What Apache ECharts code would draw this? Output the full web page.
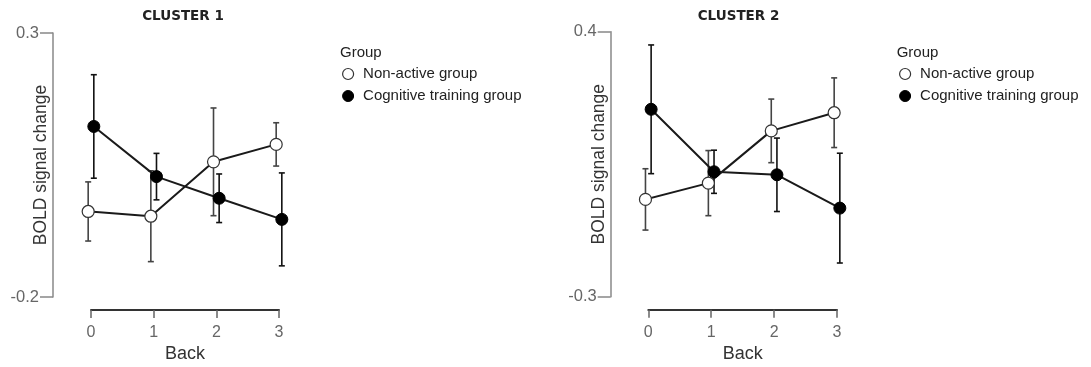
<!DOCTYPE html>
<html><head><meta charset="utf-8">
<script src="https://cdn.jsdelivr.net/npm/echarts@6/dist/echarts.min.js"></script>
<style>html,body{margin:0;padding:0;background:#fff}#c{width:1091px;height:367px}</style>
</head><body><div id="c"></div>
<script>
// ---- data ----
const backLevels = [0, 1, 2, 3];
const groupNames = ['Non-active group', 'Cognitive training group'];
const legendHeading = 'Group';
const xAxisName = 'Back';
const yAxisName = 'BOLD signal change';
const clusterTitles = ['CLUSTER 1', 'CLUSTER 2'];

// Cluster 1 (means and error half-widths)
const c1NonActive    = [-0.038, -0.047, 0.056, 0.089];
const c1NonActiveErr = [0.056, 0.086, 0.102, 0.041];
const c1Cognitive    = [0.123, 0.028, -0.013, -0.053];
const c1CognitiveErr = [0.098, 0.044, 0.046, 0.088];
const c1YTicks = [-0.2, 0.3];

// Cluster 2
const c2NonActive    = [-0.043, 0.000, 0.138, 0.186];
const c2NonActiveErr = [0.081, 0.086, 0.084, 0.092];
const c2Cognitive    = [0.195, 0.030, 0.022, -0.066];
const c2CognitiveErr = [0.170, 0.057, 0.097, 0.145];
const c2YTicks = [-0.3, 0.4];

// ---- layout / style ----
const FONT = '"Liberation Sans", Arial, sans-serif';
const dodge = 0.045;
const panels = [
  { title: clusterTitles[0], titleX: 183, grid: {left: 91, top: 33, width: 188, height: 264}, yOffset: 38,
    yTicks: c1YTicks, na: c1NonActive, naE: c1NonActiveErr, cg: c1Cognitive, cgE: c1CognitiveErr,
    legendLeft: 342, groupX: 340 },
  { title: clusterTitles[1], titleX: 738.5, grid: {left: 648.3, top: 31.7, width: 188.7, height: 265}, yOffset: 37.6,
    yTicks: c2YTicks, na: c2NonActive, naE: c2NonActiveErr, cg: c2Cognitive, cgE: c2CognitiveErr,
    legendLeft: 899, groupX: 896.7 }
];

function pts(vals, off) { return backLevels.map((b, i) => [b + off, vals[i]]); }
function errs(vals, e, off) { return backLevels.map((b, i) => [b + off, vals[i] - e[i], vals[i] + e[i]]); }

function errRenderer(color) {
  return function (params, api) {
    const x = api.value(0), lo = api.value(1), hi = api.value(2);
    const pLo = api.coord([x, lo]), pHi = api.coord([x, hi]);
    const cap = 3;
    const style = {stroke: color, lineWidth: 1.6};
    return {type: 'group', children: [
      {type: 'line', shape: {x1: pLo[0], y1: pLo[1], x2: pHi[0], y2: pHi[1]}, style: style},
      {type: 'line', shape: {x1: pLo[0] - cap, y1: pLo[1], x2: pLo[0] + cap, y2: pLo[1]}, style: style},
      {type: 'line', shape: {x1: pHi[0] - cap, y1: pHi[1], x2: pHi[0] + cap, y2: pHi[1]}, style: style}
    ]};
  };
}

const openStyle = {color: '#fff', borderColor: '#333', borderWidth: 1.2};
const fillStyle = {color: '#000', borderColor: '#000', borderWidth: 1};

const option = {
  animation: false,
  backgroundColor: '#fff',
  grid: [], xAxis: [], yAxis: [], series: [], legend: [], graphic: []
};

panels.forEach((p, k) => {
  option.grid.push(Object.assign({containLabel: false, outerBoundsMode: 'none'}, p.grid));
  option.xAxis.push({
    type: 'value', gridIndex: k, min: backLevels[0], max: backLevels[backLevels.length - 1], interval: 1,
    offset: 13,
    axisLine: {show: true, onZero: false, lineStyle: {color: '#333', width: 2}},
    axisTick: {show: true, length: 8, lineStyle: {color: '#666', width: 1.5}},
    axisLabel: {color: '#666', fontSize: 16, fontFamily: FONT, margin: 15},
    splitLine: {show: false},
    name: xAxisName, nameLocation: 'middle', nameGap: 35, nameMoveOverlap: false,
    nameTextStyle: {color: '#333', fontSize: 18, fontFamily: FONT}
  });
  const ymin = p.yTicks[0], ymax = p.yTicks[p.yTicks.length - 1];
  option.yAxis.push({
    type: 'value', gridIndex: k, min: ymin, max: ymax, interval: ymax - ymin,
    offset: p.yOffset,
    axisLine: {show: true, onZero: false, lineStyle: {color: '#888', width: 1.5}},
    axisTick: {show: true, length: 13, lineStyle: {color: '#888', width: 1.5}, customValues: p.yTicks},
    axisLabel: {color: '#666', fontSize: 16.5, fontFamily: FONT, margin: 14, customValues: p.yTicks},
    splitLine: {show: false},
    name: yAxisName, nameLocation: 'middle', nameGap: 3, nameRotate: 90, nameMoveOverlap: false,
    nameTextStyle: {color: '#333', fontSize: 17.5, fontFamily: FONT}
  });
  // error bars
  option.series.push({
    type: 'custom', xAxisIndex: k, yAxisIndex: k, z: 1, silent: true,
    renderItem: errRenderer('#444'), data: errs(p.na, p.naE, -dodge), encode: {x: 0, y: [1, 2]}
  });
  option.series.push({
    type: 'custom', xAxisIndex: k, yAxisIndex: k, z: 1, silent: true,
    renderItem: errRenderer('#111'), data: errs(p.cg, p.cgE, dodge), encode: {x: 0, y: [1, 2]}
  });
  // lines
  option.series.push({
    type: 'line', name: groupNames[0], xAxisIndex: k, yAxisIndex: k, z: 3, clip: false,
    data: pts(p.na, -dodge), symbol: 'circle', symbolSize: 12, showAllSymbol: true,
    lineStyle: {color: '#1a1a1a', width: 2}, itemStyle: openStyle, emphasis: {disabled: true}
  });
  option.series.push({
    type: 'line', name: groupNames[1], xAxisIndex: k, yAxisIndex: k, z: 4, clip: false,
    data: pts(p.cg, dodge), symbol: 'circle', symbolSize: 12, showAllSymbol: true,
    lineStyle: {color: '#1a1a1a', width: 2}, itemStyle: fillStyle, emphasis: {disabled: true}
  });
  option.legend.push({
    orient: 'vertical', left: p.legendLeft, top: 66.5, padding: 0,
    itemWidth: 20, itemHeight: 11, itemGap: 7,
    textStyle: {color: '#222', fontSize: 15, fontFamily: FONT, lineHeight: 15},
    data: [
      {name: groupNames[0], icon: 'circle', itemStyle: openStyle},
      {name: groupNames[1], icon: 'circle', itemStyle: fillStyle}
    ]
  });
  option.graphic.push({
    type: 'text', x: p.titleX, y: 16,
    style: {text: p.title, fill: '#222', font: 'bold 13.5px "DejaVu Sans", Verdana, sans-serif',
            align: 'center', verticalAlign: 'middle'}
  });
  option.graphic.push({
    type: 'text', x: p.groupX, y: 53,
    style: {text: legendHeading, fill: '#222', font: '15px ' + FONT, align: 'left', verticalAlign: 'middle'}
  });
});

const chart = echarts.init(document.getElementById('c'), null, {renderer: 'canvas'});
chart.setOption(option);
</script>
</body></html>
